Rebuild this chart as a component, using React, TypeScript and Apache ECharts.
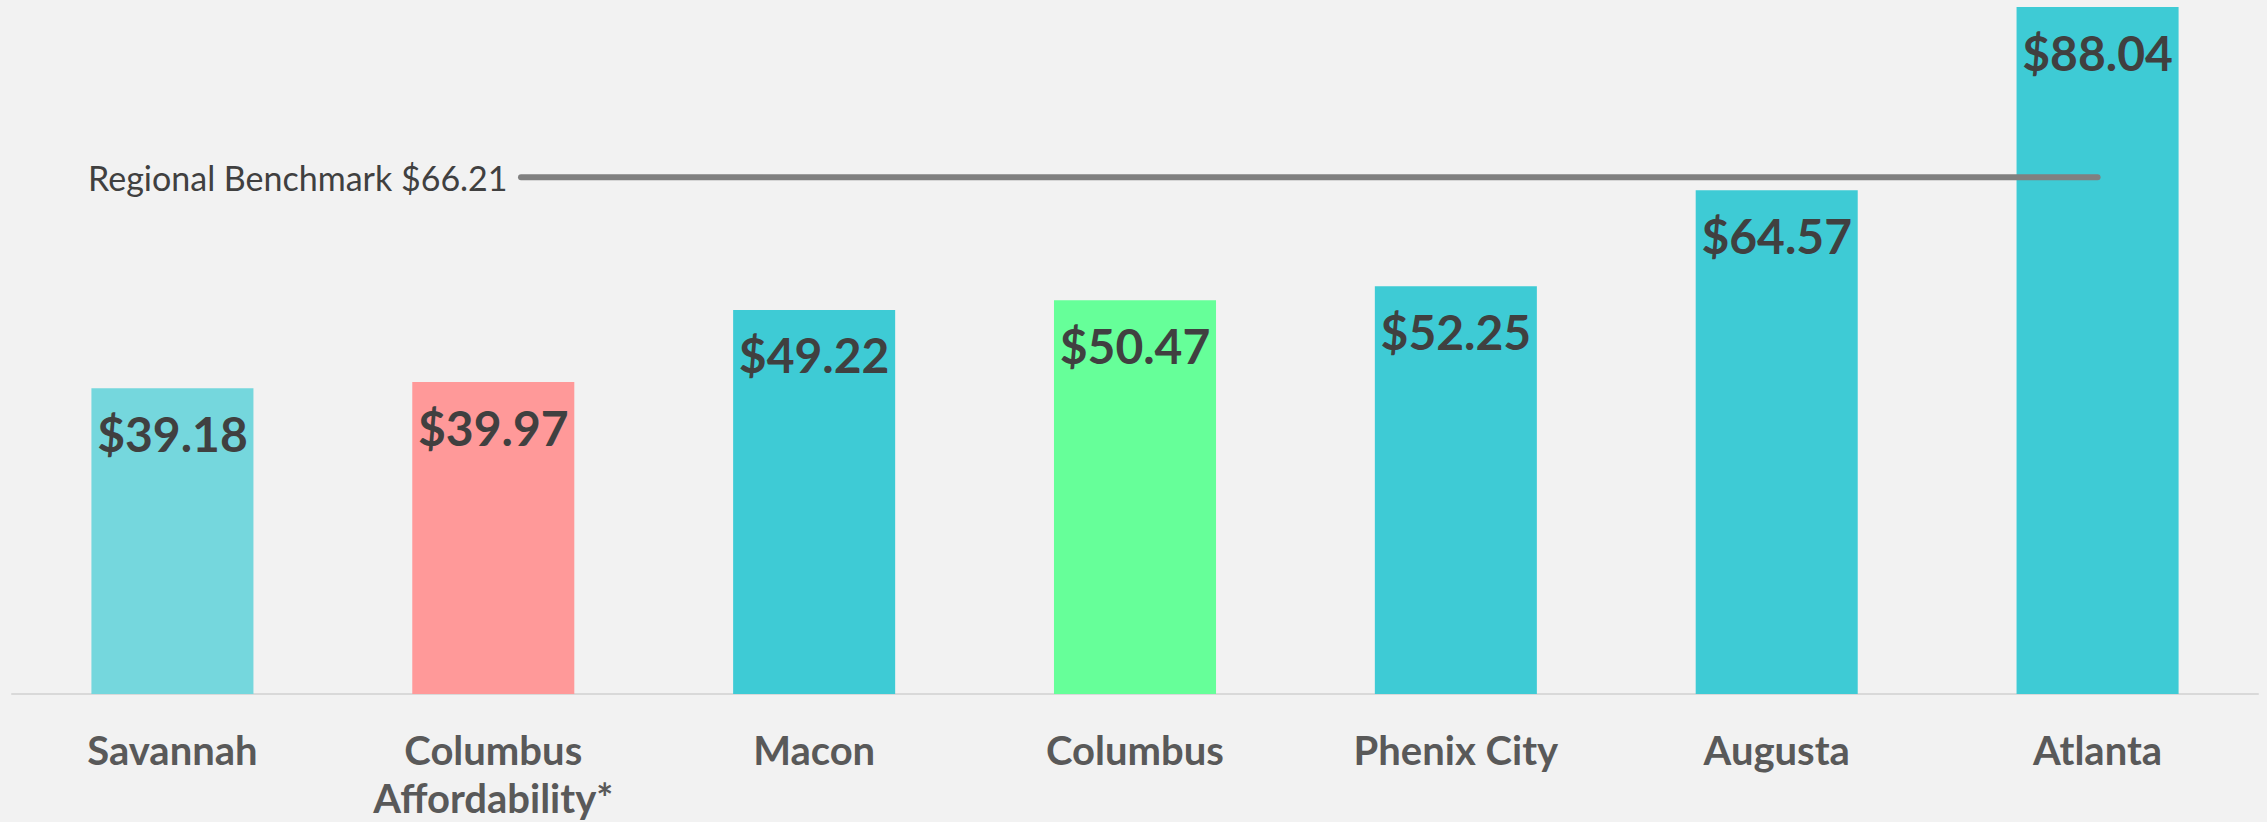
import React, { useEffect, useRef } from "react";
import * as echarts from "echarts";

const categories = [
  "Savannah",
  "Columbus\nAffordability*",
  "Macon",
  "Columbus",
  "Phenix City",
  "Augusta",
  "Atlanta",
];
const values = [39.18, 39.97, 49.22, 50.47, 52.25, 64.57, 88.04];
const barColors = ["#75D7DD", "#FF9999", "#3ECBD5", "#66FF99", "#3ECBD5", "#3ECBD5", "#3ECBD5"];
const benchmarkValue = 66.21;
const benchmarkLabel = "Regional Benchmark $66.21";
const benchmarkEndCategory = "Atlanta";

export default function App() {
  const ref = useRef<HTMLDivElement>(null);
  useEffect(() => {
    document.body.style.margin = "0";
    document.body.style.background = "#F2F2F2";
    if (!ref.current) return;
    const chart = echarts.init(ref.current, undefined, { renderer: "svg" });
    chart.setOption({
      animation: false,
      backgroundColor: "#F2F2F2",
      grid: { left: 12, right: 9, top: 7, bottom: 127, containLabel: false },
      xAxis: {
        type: "category",
        data: categories,
        axisLine: { show: true, lineStyle: { color: "#D9D9D9", width: 2 } },
        axisTick: { show: false },
        axisLabel: {
          interval: 0,
          margin: 32,
          fontFamily: "Lato",
          fontWeight: "bold",
          fontSize: 40,
          lineHeight: 48,
          color: "#595959",
        },
      },
      yAxis: {
        type: "value",
        min: 0,
        max: "dataMax",
        show: false,
        splitLine: { show: false },
      },
      series: [
        {
          type: "bar",
          barWidth: "50.5%",
          data: values.map((v, i) => ({ value: v, itemStyle: { color: barColors[i] } })),
          label: {
            show: true,
            position: "insideTop",
            distance: 21,
            formatter: (p: any) => "$" + Number(p.value).toFixed(2),
            fontFamily: "Lato",
            fontWeight: "bold",
            fontSize: 48,
            color: "#404040",
          },
        },
      ],
    });
    const endX = chart.convertToPixel({ xAxisIndex: 0 }, benchmarkEndCategory) as number;
    const y = chart.convertToPixel({ yAxisIndex: 0 }, benchmarkValue) as number;
    chart.setOption({
      graphic: [
        {
          type: "line",
          shape: { x1: 521, y1: y, x2: endX, y2: y },
          style: { stroke: "#808080", lineWidth: 6, lineCap: "round" },
          z: 100,
        },
        {
          type: "text",
          x: 88,
          y: y,
          style: {
            text: benchmarkLabel,
            fontFamily: "Lato",
            fontSize: 34,
            fill: "#404040",
            align: "left",
            verticalAlign: "middle",
          },
          z: 100,
        },
      ],
    });
    return () => chart.dispose();
  }, []);
  return <div ref={ref} style={{ width: 2267, height: 822 }} />;
}
